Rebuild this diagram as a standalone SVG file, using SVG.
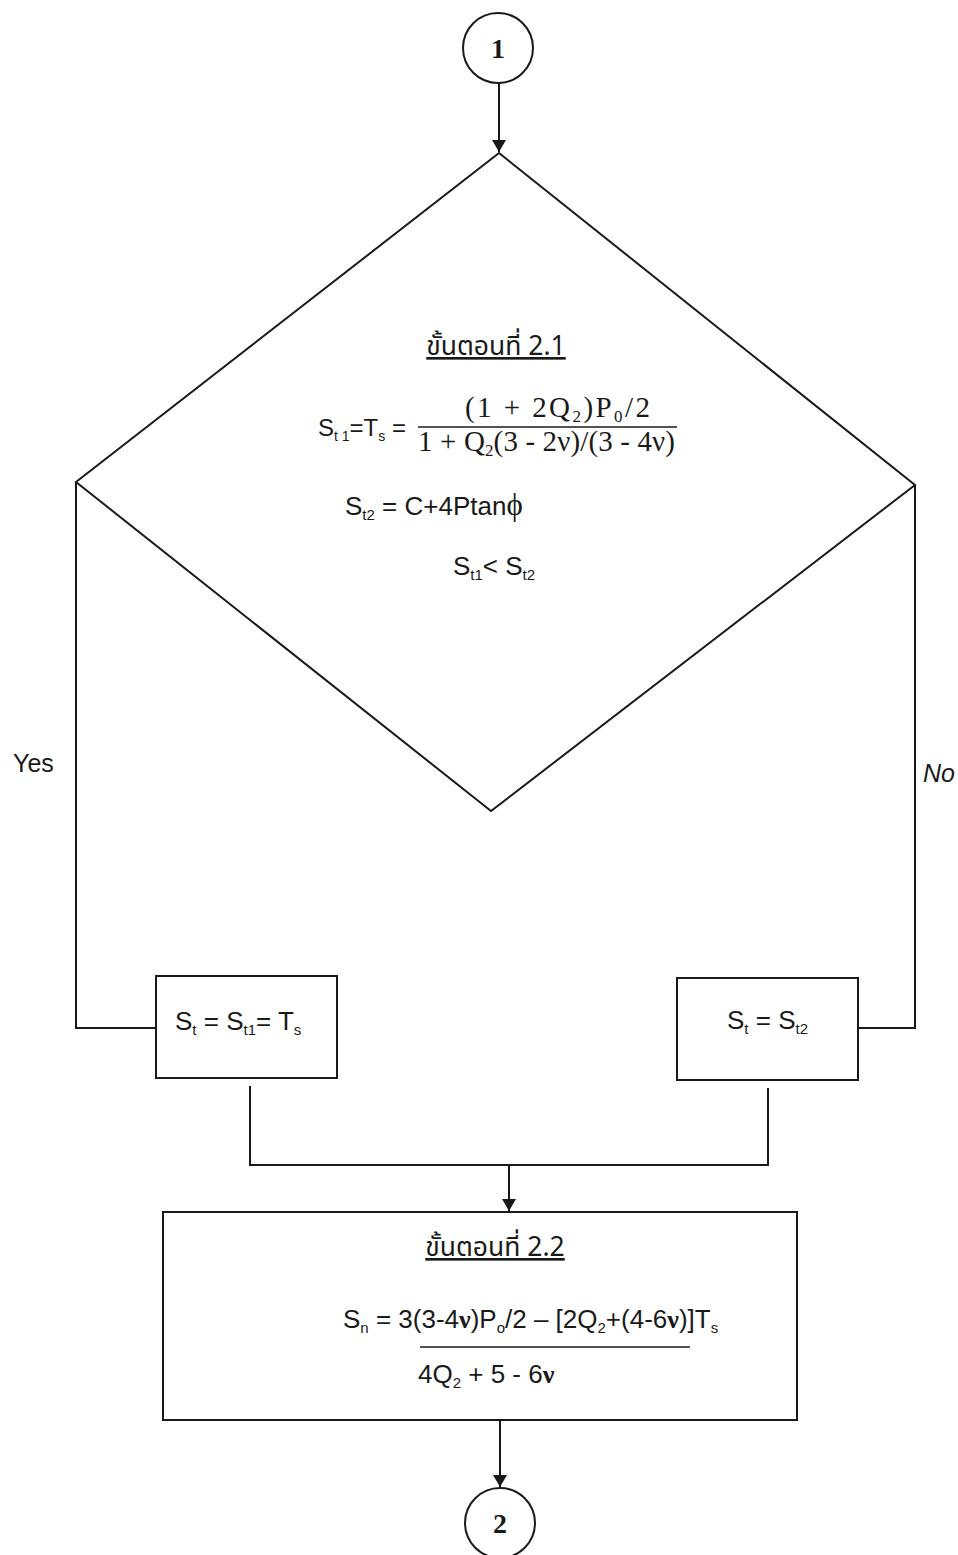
<svg xmlns="http://www.w3.org/2000/svg" width="958" height="1555" viewBox="0 0 958 1555">
<style>
.bg{fill:#fff}
.sh{fill:none;stroke:#1a1a1a;stroke-width:2}
.ln{fill:none;stroke:#1a1a1a;stroke-width:2}
.t{font-family:"Liberation Sans",Arial,sans-serif;font-size:26px;fill:#1a1a1a}
.m{font-family:"Liberation Serif","Times New Roman",serif;font-size:29px;fill:#1a1a1a}
.th{font-family:"Noto Sans Thai","Noto Sans","DejaVu Sans",sans-serif;font-size:26.5px;fill:#1a1a1a;text-decoration:underline}
.n{font-family:"Liberation Serif","Times New Roman",serif;font-size:28px;font-weight:bold;fill:#1a1a1a}
.s{font-size:15px}
.ms{font-size:17px}
.nu{font-family:"Liberation Serif","Times New Roman",serif;font-weight:bold}
</style>
<defs>
<marker id="ah" viewBox="0 0 12 14" refX="12" refY="7" markerWidth="12" markerHeight="14" markerUnits="userSpaceOnUse" orient="auto">
<path d="M0,0 L12,7 L0,14 Z" fill="#1a1a1a"/>
</marker>
</defs>
<rect class="bg" x="0" y="0" width="958" height="1555"/>

<g id="connectors">
<path class="ln" d="M499,83 V152" marker-end="url(#ah)"/>
<path class="ln" d="M76,482 V1028 H156"/>
<path class="ln" d="M915,485 V1028 H858"/>
<path class="ln" d="M250,1086 V1165 H768 V1088"/>
<path class="ln" d="M509,1165 V1211" marker-end="url(#ah)"/>
<path class="ln" d="M500,1420 V1487" marker-end="url(#ah)"/>
</g>

<g id="start">
<circle class="sh" cx="498" cy="48" r="35"/>
<text class="n" x="498" y="58" text-anchor="middle">1</text>
</g>

<g id="decision">
<polygon class="sh" points="499,153 915,485 491,811 76,482"/>
<text class="th" x="496" y="355" text-anchor="middle">ขั้นตอนที่ 2.1</text>
<text class="t" x="318" y="436" style="font-size:24px">S<tspan class="s" dy="5" style="font-size:14px">t 1</tspan><tspan dy="-5">=T</tspan><tspan class="s" dy="5" style="font-size:14px">s</tspan><tspan dy="-5"> =</tspan></text>
<line class="ln" x1="418" y1="427" x2="677" y2="427" style="stroke-width:1.5"/>
<text class="m" x="465" y="417" textLength="185" lengthAdjust="spacing">(1 + 2Q<tspan class="ms" dy="5">2</tspan><tspan dy="-5">)P</tspan><tspan class="ms" dy="5">0</tspan><tspan dy="-5">/2</tspan></text>
<text class="m" x="418" y="451" textLength="257" lengthAdjust="spacing">1 + Q<tspan class="ms" dy="5">2</tspan><tspan dy="-5">(3 - 2ν)/(3 - 4ν)</tspan></text>
<text class="t" x="345" y="515">S<tspan class="s" dy="5">t2</tspan><tspan dy="-5"> = C+4Ptan</tspan><tspan class="m" style="font-size:31px">ϕ</tspan></text>
<text class="t" x="453" y="575">S<tspan class="s" dy="5">t1</tspan><tspan dy="-5">&lt; S</tspan><tspan class="s" dy="5">t2</tspan></text>
</g>

<g id="label-yes">
<text class="t" x="13" y="772" style="font-size:25px">Yes</text>
</g>
<g id="label-no">
<text class="t" x="923" y="782" style="font-size:25px;font-style:italic">No</text>
</g>

<g id="box-yes">
<rect class="sh" x="156" y="976" width="181" height="102"/>
<text class="t" x="175" y="1030">S<tspan class="s" dy="5">t</tspan><tspan dy="-5"> = S</tspan><tspan class="s" dy="5">t1</tspan><tspan dy="-5">= T</tspan><tspan class="s" dy="5">s</tspan></text>
</g>

<g id="box-no">
<rect class="sh" x="677" y="978" width="181" height="102"/>
<text class="t" x="727" y="1029">S<tspan class="s" dy="5">t</tspan><tspan dy="-5"> = S</tspan><tspan class="s" dy="5">t2</tspan></text>
</g>

<g id="step-2-2">
<rect class="sh" x="163" y="1212" width="634" height="208"/>
<text class="th" x="495" y="1256" text-anchor="middle">ขั้นตอนที่ 2.2</text>
<text class="t" x="343" y="1328">S<tspan class="s" dy="5">n</tspan><tspan dy="-5"> = 3(3-4</tspan><tspan class="nu">ν</tspan><tspan>)P</tspan><tspan class="s" dy="5">o</tspan><tspan dy="-5">/2 – [2Q</tspan><tspan class="s" dy="5">2</tspan><tspan dy="-5">+(4-6</tspan><tspan class="nu">ν</tspan><tspan>)]T</tspan><tspan class="s" dy="5">s</tspan></text>
<line class="ln" x1="420" y1="1347" x2="690" y2="1347" style="stroke-width:1.5"/>
<text class="t" x="418" y="1383">4Q<tspan class="s" dy="5">2</tspan><tspan dy="-5"> + 5 - 6</tspan><tspan class="nu">ν</tspan></text>
</g>

<g id="end">
<circle class="sh" cx="500" cy="1523" r="35"/>
<text class="n" x="500" y="1533" text-anchor="middle">2</text>
</g>
</svg>
